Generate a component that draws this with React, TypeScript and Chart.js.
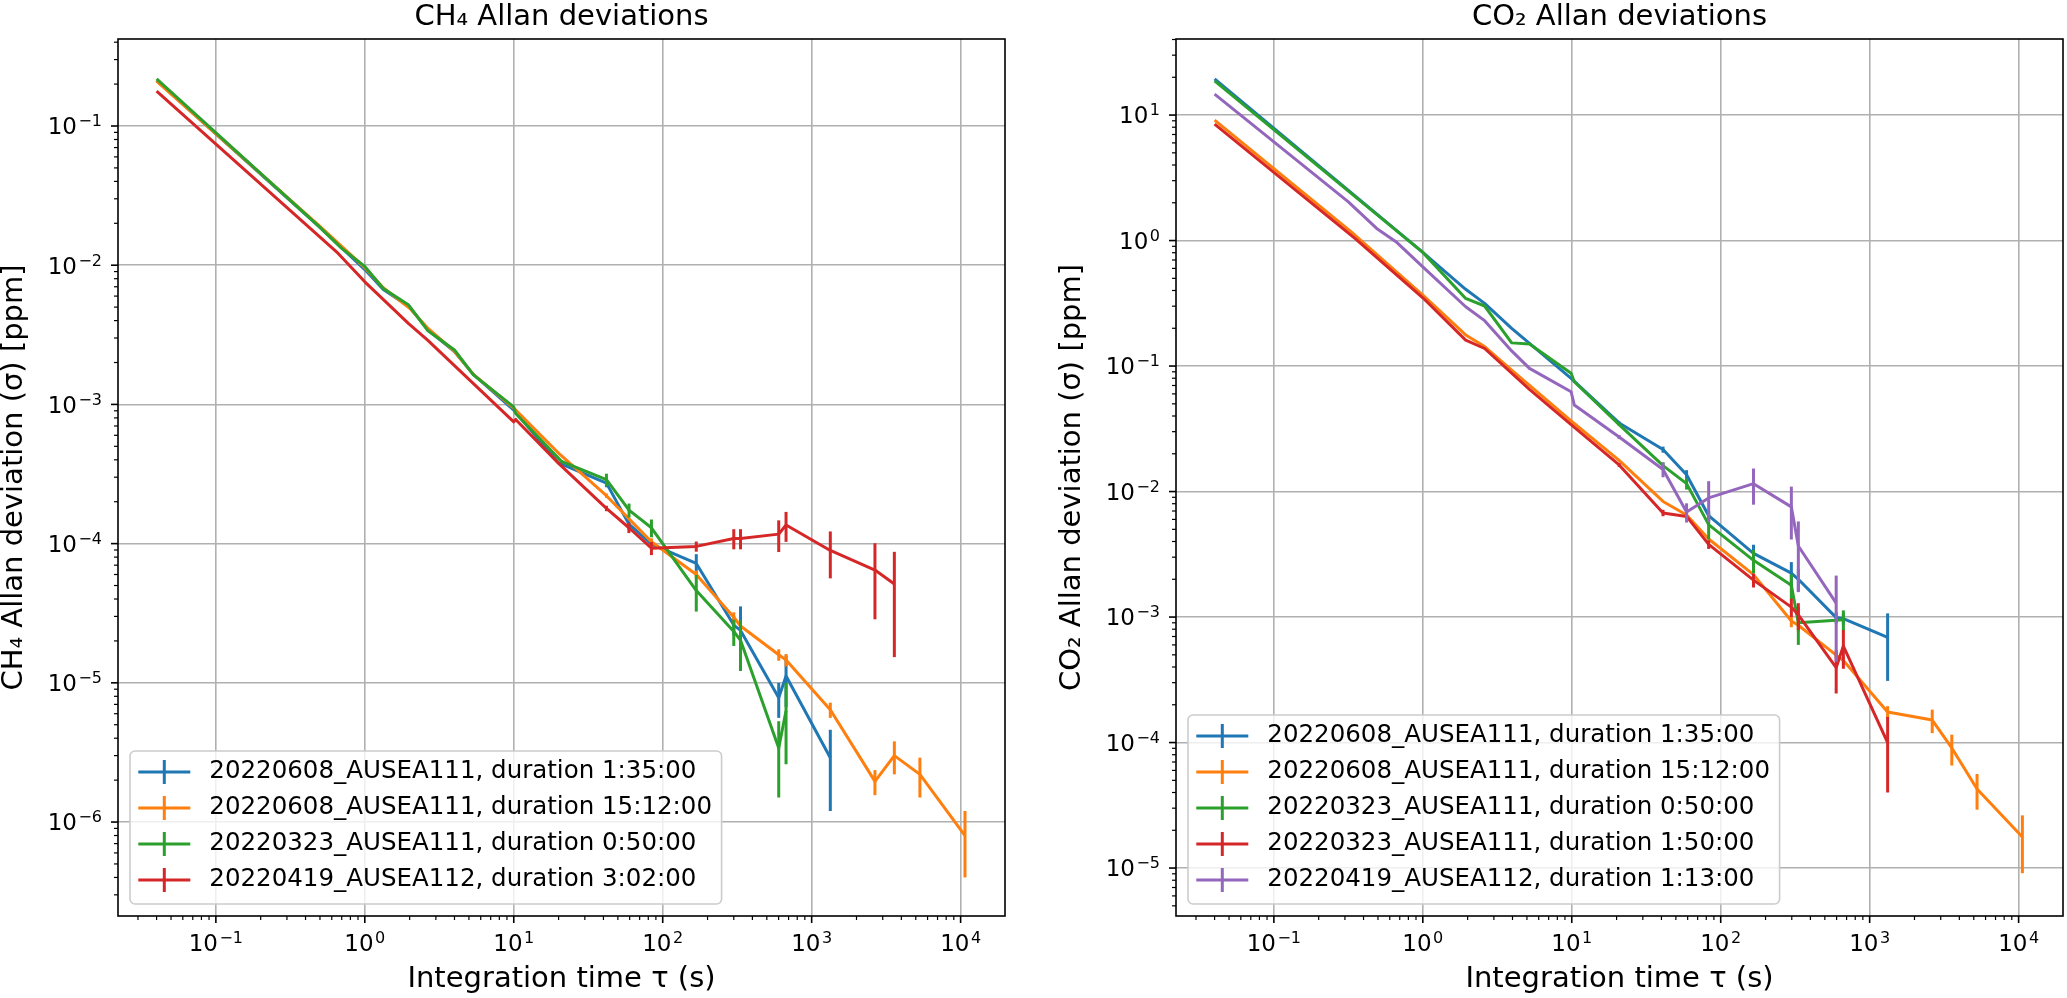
import { useEffect, useRef } from 'react';
import { Chart, registerables } from 'chart.js';

Chart.register(...registerables);

const FONT = '"DejaVu Sans", sans-serif';
const BLUE = '#1f77b4';
const ORANGE = '#ff7f0e';
const GREEN = '#2ca02c';
const RED = '#d62728';
const PURPLE = '#9467bd';

// ---- CH4 panel data (tau in s, sigma in ppm, err = half-length of the error bar) ----
const ch4TauBlue = [0.04, 0.5, 1, 1.33, 2, 2.67, 4, 5.33, 10, 20, 41.9, 59.3, 84, 168, 300, 333, 601, 673, 1334];
const ch4SigBlue = [0.212, 0.0187, 0.0093, 0.0067, 0.005, 0.0034, 0.0024, 0.00165, 0.00091, 0.00038, 0.000272, 0.000138, 0.000099, 0.000072, 0.000026, 0.0000238, 0.0000078, 0.0000112, 0.0000029];
const ch4ErrBlue = [0, 0, 0, 0, 0, 0, 0, 0, 0, 0.000006, 0.000018, 0.000012, 0.000009, 0.000012, 0.000004, 0.0000116, 0.0000022, 0.0000045, 0.0000017];

const ch4TauOrange = [0.04, 0.5, 1, 1.33, 2, 2.67, 4, 5.33, 10, 20.5, 41.9, 84, 168, 300, 333, 601, 673, 1334, 2660, 3590, 5330, 10700];
const ch4SigOrange = [0.21, 0.019, 0.0096, 0.0069, 0.0049, 0.0035, 0.0024, 0.00165, 0.00094, 0.000435, 0.000221, 0.000103, 0.00006, 0.0000296, 0.0000256, 0.0000159, 0.0000146, 0.0000064, 0.00000196, 0.000003, 0.0000022, 0.0000008];
const ch4ErrOrange = [0, 0, 0, 0, 0, 0, 0, 0, 0, 0, 0.000008, 0.000006, 0.000004, 0.0000025, 0.000002, 0.0000015, 0.0000015, 0.0000008, 0.0000004, 0.0000008, 0.0000007, 0.0000004];

const ch4TauGreen = [0.04, 0.49, 0.7, 1, 1.33, 1.96, 2.64, 4, 5.36, 10, 10.3, 20.9, 41.9, 59.4, 84, 168, 300, 333, 601, 673];
const ch4SigGreen = [0.218, 0.0191, 0.0132, 0.0098, 0.0068, 0.0052, 0.0034, 0.00246, 0.00163, 0.00096, 0.00086, 0.00039, 0.000288, 0.000174, 0.00013, 0.000046, 0.0000234, 0.0000202, 0.0000034, 0.0000063];
const ch4ErrGreen = [0, 0, 0, 0, 0, 0, 0, 0, 0, 0, 0, 0.000008, 0.00003, 0.00002, 0.000019, 0.0000135, 0.000005, 0.000008, 0.0000019, 0.0000037];

const ch4TauRed = [0.04, 0.66, 1, 1.96, 2.64, 10, 10.3, 20, 41.9, 59.3, 84, 168, 300, 333, 601, 673, 1334, 2660, 3590];
const ch4SigRed = [0.178, 0.0122, 0.0076, 0.00382, 0.0029, 0.00075, 0.00078, 0.000377, 0.000179, 0.00013, 0.0000927, 0.0000955, 0.000109, 0.000109, 0.000117, 0.000136, 0.0000893, 0.0000646, 0.0000513];
const ch4ErrRed = [0, 0, 0, 0, 0, 0, 0, 0, 0.000008, 0.000011, 0.00001, 0.000008, 0.000018, 0.000018, 0.00003, 0.000033, 0.000033, 0.000036, 0.000036];

const ch4Labels = [
  '20220608_AUSEA111, duration 1:35:00',
  '20220608_AUSEA111, duration 15:12:00',
  '20220323_AUSEA111, duration 0:50:00',
  '20220419_AUSEA112, duration 3:02:00',
];

// ---- CO2 panel data ----
const co2TauBlue = [0.04, 1, 1.94, 2.6, 3.95, 9.9, 20.8, 41, 59, 83, 166, 298, 332, 596, 666, 1320];
const co2SigBlue = [19.4, 0.805, 0.409, 0.316, 0.2, 0.0798, 0.0352, 0.0216, 0.0136, 0.00642, 0.00322, 0.00224, 0.002, 0.00099, 0.00097, 0.00069];
const co2ErrBlue = [0, 0, 0, 0, 0, 0, 0.001, 0.0012, 0.0012, 0.0006, 0.00055, 0.0005, 0.0004, 0.0001, 0.0001, 0.00038];

const co2TauOrange = [0.04, 0.35, 1, 1.94, 2.6, 3.95, 9.9, 20.8, 41, 59, 83, 166, 298, 332, 596, 666, 1320, 2630, 3560, 5260, 10600];
const co2SigOrange = [9.1, 1.107, 0.368, 0.177, 0.143, 0.093, 0.0365, 0.0177, 0.00834, 0.0065, 0.00419, 0.00218, 0.00093, 0.00086, 0.000498, 0.00045, 0.000175, 0.000151, 0.0000906, 0.0000427, 0.0000177];
const co2ErrOrange = [0, 0, 0, 0, 0, 0, 0, 0, 0, 0, 0, 0, 0.0001, 0.0001, 0.00003, 0.00003, 0.00002, 0.000032, 0.000025, 0.0000135, 0.0000086];

const co2TauGreen = [0.04, 1, 1.94, 2.6, 3.95, 5.2, 9.9, 10.4, 20.8, 41, 59, 83, 166, 298, 332, 666];
const co2SigGreen = [18.7, 0.805, 0.346, 0.301, 0.153, 0.15, 0.0875, 0.075, 0.0341, 0.0161, 0.01157, 0.00545, 0.00283, 0.00179, 0.0009, 0.00095];
const co2ErrGreen = [0, 0, 0, 0, 0, 0, 0, 0, 0.0008, 0.001, 0.0012, 0.0013, 0.0006, 0.0004, 0.0003, 0.00018];

const co2TauRed = [0.04, 0.35, 1, 1.94, 2.6, 5.2, 9.9, 20.8, 41, 59, 83, 166, 298, 332, 596, 666, 1320];
const co2SigRed = [8.47, 1.04, 0.35, 0.161, 0.138, 0.0652, 0.0341, 0.0163, 0.00676, 0.00634, 0.00379, 0.00197, 0.0012, 0.00104, 0.000396, 0.000587, 0.0001];
const co2ErrRed = [0, 0, 0, 0, 0, 0, 0, 0.0006, 0.0004, 0.0003, 0.0003, 0.00025, 0.0002, 0.00025, 0.00015, 0.0002, 0.00006];

const co2TauPurple = [0.04, 0.315, 0.49, 0.66, 1, 1.94, 2.6, 3.95, 5.2, 9.9, 10.4, 20.8, 41, 59, 83, 166, 298, 332, 596];
const co2SigPurple = [14.7, 2.04, 1.25, 0.98, 0.618, 0.297, 0.23, 0.132, 0.0958, 0.0624, 0.0489, 0.0272, 0.015, 0.00686, 0.0089, 0.01156, 0.00755, 0.00368, 0.00129];
const co2ErrPurple = [0, 0, 0, 0, 0, 0, 0, 0, 0, 0, 0, 0.001, 0.002, 0.0012, 0.0032, 0.0037, 0.0034, 0.0021, 0.00085];

const co2Labels = [
  '20220608_AUSEA111, duration 1:35:00',
  '20220608_AUSEA111, duration 15:12:00',
  '20220323_AUSEA111, duration 0:50:00',
  '20220323_AUSEA111, duration 1:50:00',
  '20220419_AUSEA112, duration 1:13:00',
];

// axis limits (log10 of the visible range)
const X_MIN = Math.pow(10, -1.657);
const X_MAX = Math.pow(10, 4.298);
const CH4_Y = [Math.pow(10, -6.675), Math.pow(10, -0.375)];
const CO2_Y = [Math.pow(10, -5.382), Math.pow(10, 1.606)];

const H = 998;
const AREA_TOP = 39;
const AREA_BOTTOM = 916;

interface Series {
  label: string;
  tau: number[];
  sigma: number[];
  err: number[];
  color: string;
}

const ch4Series: Series[] = [
  { label: ch4Labels[0], tau: ch4TauBlue, sigma: ch4SigBlue, err: ch4ErrBlue, color: BLUE },
  { label: ch4Labels[1], tau: ch4TauOrange, sigma: ch4SigOrange, err: ch4ErrOrange, color: ORANGE },
  { label: ch4Labels[2], tau: ch4TauGreen, sigma: ch4SigGreen, err: ch4ErrGreen, color: GREEN },
  { label: ch4Labels[3], tau: ch4TauRed, sigma: ch4SigRed, err: ch4ErrRed, color: RED },
];

const co2Series: Series[] = [
  { label: co2Labels[0], tau: co2TauBlue, sigma: co2SigBlue, err: co2ErrBlue, color: BLUE },
  { label: co2Labels[1], tau: co2TauOrange, sigma: co2SigOrange, err: co2ErrOrange, color: ORANGE },
  { label: co2Labels[2], tau: co2TauGreen, sigma: co2SigGreen, err: co2ErrGreen, color: GREEN },
  { label: co2Labels[3], tau: co2TauRed, sigma: co2SigRed, err: co2ErrRed, color: RED },
  { label: co2Labels[4], tau: co2TauPurple, sigma: co2SigPurple, err: co2ErrPurple, color: PURPLE },
];

const isMajor = (v: number) => {
  if (!(v > 0)) return false;
  const l = Math.log10(v);
  return Math.abs(l - Math.round(l)) < 1e-6;
};

const logTicks = (min: number, max: number) => {
  const out: { value: number }[] = [];
  for (let e = Math.floor(Math.log10(min)); e <= Math.ceil(Math.log10(max)); e++) {
    for (let m = 1; m <= 9; m++) {
      const v = m * Math.pow(10, e);
      if (v >= min && v <= max) out.push({ value: v });
    }
  }
  return out;
};

const gridColor = (ctx: any) => (ctx.tick && isMajor(ctx.tick.value) ? '#b0b0b0' : 'rgba(0,0,0,0)');

// "10" with a smaller raised exponent, like matplotlib's mathtext tick labels
const drawPower = (ctx: CanvasRenderingContext2D, exp: number, x: number, baseY: number, align: 'center' | 'right') => {
  const base = '10';
  const sup = exp < 0 ? '\u2212' + Math.abs(exp) : String(exp);
  ctx.font = `23px ${FONT}`;
  const wb = ctx.measureText(base).width;
  ctx.font = `16px ${FONT}`;
  const ws = ctx.measureText(sup).width;
  const gap = 1.5;
  const total = wb + gap + ws;
  const x0 = align === 'center' ? x - total / 2 : x - total;
  ctx.textAlign = 'left';
  ctx.textBaseline = 'alphabetic';
  ctx.font = `23px ${FONT}`;
  ctx.fillText(base, x0, baseY);
  ctx.font = `16px ${FONT}`;
  ctx.fillText(sup, x0 + wb + gap, baseY - 8);
};

const makeDecor = (title: string, series: Series[]) => ({
  id: 'allanDecor',
  afterDatasetDraw(chart: any, args: any) {
    const ds = chart.data.datasets[args.index];
    const errs: number[] = ds.errs;
    if (!errs) return;
    const { ctx, chartArea: a } = chart;
    const xs = chart.scales.x;
    const ys = chart.scales.y;
    ctx.save();
    ctx.beginPath();
    ctx.rect(a.left, a.top, a.right - a.left, a.bottom - a.top);
    ctx.clip();
    ctx.strokeStyle = ds.borderColor;
    ctx.lineWidth = 3;
    ds.data.forEach((p: any, k: number) => {
      const e = errs[k];
      if (!e) return;
      const px = xs.getPixelForValue(p.x);
      const lo = p.y - e;
      const y1 = ys.getPixelForValue(p.y + e);
      const y2 = lo > 0 ? ys.getPixelForValue(lo) : a.bottom;
      ctx.beginPath();
      ctx.moveTo(px, y1);
      ctx.lineTo(px, y2);
      ctx.stroke();
    });
    ctx.restore();
  },
  afterDraw(chart: any) {
    const { ctx, chartArea: a } = chart;
    const xs = chart.scales.x;
    const ys = chart.scales.y;
    ctx.save();

    // tick marks (major long, minor short) and decade labels
    ctx.strokeStyle = '#000';
    ctx.fillStyle = '#000';
    xs.ticks.forEach((t: any) => {
      const major = isMajor(t.value);
      const px = xs.getPixelForValue(t.value);
      ctx.lineWidth = major ? 1.6 : 1.2;
      ctx.beginPath();
      ctx.moveTo(px, a.bottom);
      ctx.lineTo(px, a.bottom + (major ? 7 : 4));
      ctx.stroke();
      if (major) drawPower(ctx, Math.round(Math.log10(t.value)), px, a.bottom + 35, 'center');
    });
    ys.ticks.forEach((t: any) => {
      const major = isMajor(t.value);
      const py = ys.getPixelForValue(t.value);
      ctx.lineWidth = major ? 1.6 : 1.2;
      ctx.beginPath();
      ctx.moveTo(a.left, py);
      ctx.lineTo(a.left - (major ? 7 : 4), py);
      ctx.stroke();
      if (major) drawPower(ctx, Math.round(Math.log10(t.value)), a.left - 16, py + 8.4, 'right');
    });

    // frame
    ctx.lineWidth = 1.6;
    ctx.strokeRect(a.left, a.top, a.right - a.left, a.bottom - a.top);

    // title
    ctx.font = `29px ${FONT}`;
    ctx.textAlign = 'center';
    ctx.textBaseline = 'alphabetic';
    ctx.fillText(title, (a.left + a.right) / 2, 25);

    // legend, lower left inside the axes
    ctx.font = `24.5px ${FONT}`;
    const textW = Math.max(...series.map((s) => ctx.measureText(s.label).width));
    const n = series.length;
    const boxL = a.left + 12;
    const boxB = a.bottom - 12;
    const boxH = 21 + (n - 1) * 36 + 24;
    const boxT = boxB - boxH;
    const boxW = 79.3 + textW + 9.6;
    ctx.beginPath();
    ctx.roundRect(boxL, boxT, boxW, boxH, 5);
    ctx.fillStyle = 'rgba(255,255,255,0.8)';
    ctx.fill();
    ctx.strokeStyle = '#cccccc';
    ctx.lineWidth = 1.6;
    ctx.stroke();
    series.forEach((s, i) => {
      const y = boxT + 21 + i * 36;
      const hx = boxL + 8.3;
      ctx.strokeStyle = s.color;
      ctx.lineWidth = 3;
      ctx.beginPath();
      ctx.moveTo(hx, y);
      ctx.lineTo(hx + 52, y);
      ctx.moveTo(hx + 26, y - 12);
      ctx.lineTo(hx + 26, y + 12);
      ctx.stroke();
      ctx.fillStyle = '#000';
      ctx.textAlign = 'left';
      ctx.textBaseline = 'middle';
      ctx.fillText(s.label, boxL + 79.3, y);
    });
    ctx.restore();
  },
});

interface PanelProps {
  width: number;
  areaLeft: number;
  areaRight: number;
  yTitlePad: number;
  yRange: number[];
  title: string;
  yTitle: string;
  series: Series[];
}

const AllanPanel = ({ width, areaLeft, areaRight, yTitlePad, yRange, title, yTitle, series }: PanelProps) => {
  const canvasRef = useRef<HTMLCanvasElement | null>(null);

  useEffect(() => {
    if (!canvasRef.current) return;
    const n = series.length;
    const chart = new Chart(canvasRef.current, {
      type: 'line',
      data: {
        datasets: series.map((s, i) => ({
          label: s.label,
          data: s.tau.map((t, k) => ({ x: t, y: s.sigma[k] })),
          errs: s.err,
          borderColor: s.color,
          backgroundColor: s.color,
          borderWidth: 3,
          borderJoinStyle: 'round',
          pointRadius: 0,
          pointHoverRadius: 0,
          tension: 0,
          fill: false,
          order: n - i,
        })) as any,
      },
      options: {
        responsive: false,
        animation: false,
        events: [],
        layout: { padding: { left: 0, top: AREA_TOP, right: width - areaRight, bottom: 0 } },
        plugins: { legend: { display: false }, title: { display: false }, tooltip: { enabled: false } },
        scales: {
          x: {
            type: 'logarithmic',
            min: X_MIN,
            max: X_MAX,
            bounds: 'data',
            afterBuildTicks: (s: any) => {
              s.ticks = logTicks(s.min, s.max);
            },
            afterFit: (s: any) => {
              s.height = H - AREA_BOTTOM;
            },
            grid: { color: gridColor, lineWidth: 1.6, drawTicks: false },
            border: { display: false },
            ticks: { display: false, autoSkip: false, maxRotation: 0 },
            title: {
              display: true,
              text: 'Integration time τ (s)',
              color: '#000',
              font: { family: FONT, size: 29 },
              padding: { top: 0, bottom: 1 },
            },
          },
          y: {
            type: 'logarithmic',
            min: yRange[0],
            max: yRange[1],
            bounds: 'data',
            afterBuildTicks: (s: any) => {
              s.ticks = logTicks(s.min, s.max);
            },
            afterFit: (s: any) => {
              s.width = areaLeft;
            },
            grid: { color: gridColor, lineWidth: 1.6, drawTicks: false },
            border: { display: false },
            ticks: { display: false, autoSkip: false },
            title: {
              display: true,
              text: yTitle,
              color: '#000',
              font: { family: FONT, size: 29 },
              padding: { top: yTitlePad, bottom: 0 },
            },
          },
        },
      } as any,
      plugins: [makeDecor(title, series)],
    });
    return () => {
      chart.destroy();
    };
  }, []);

  return <canvas ref={canvasRef} width={width} height={H} style={{ display: 'block', width, height: H }} />;
};

const App = () => {
  return (
    <div style={{ position: 'fixed', left: 0, top: 0, width: 2067, height: H, background: '#fff' }}>
      <div style={{ position: 'absolute', left: 0, top: 0 }}>
        <AllanPanel
          width={1034}
          areaLeft={118}
          areaRight={1005}
          yTitlePad={-3}
          yRange={CH4_Y}
          title="CH₄ Allan deviations"
          yTitle="CH₄ Allan deviation (σ) [ppm]"
          series={ch4Series}
        />
      </div>
      <div style={{ position: 'absolute', left: 1034, top: 0 }}>
        <AllanPanel
          width={1033}
          areaLeft={142}
          areaRight={1029}
          yTitlePad={21}
          yRange={CO2_Y}
          title="CO₂ Allan deviations"
          yTitle="CO₂ Allan deviation (σ) [ppm]"
          series={co2Series}
        />
      </div>
    </div>
  );
};

export default App;
